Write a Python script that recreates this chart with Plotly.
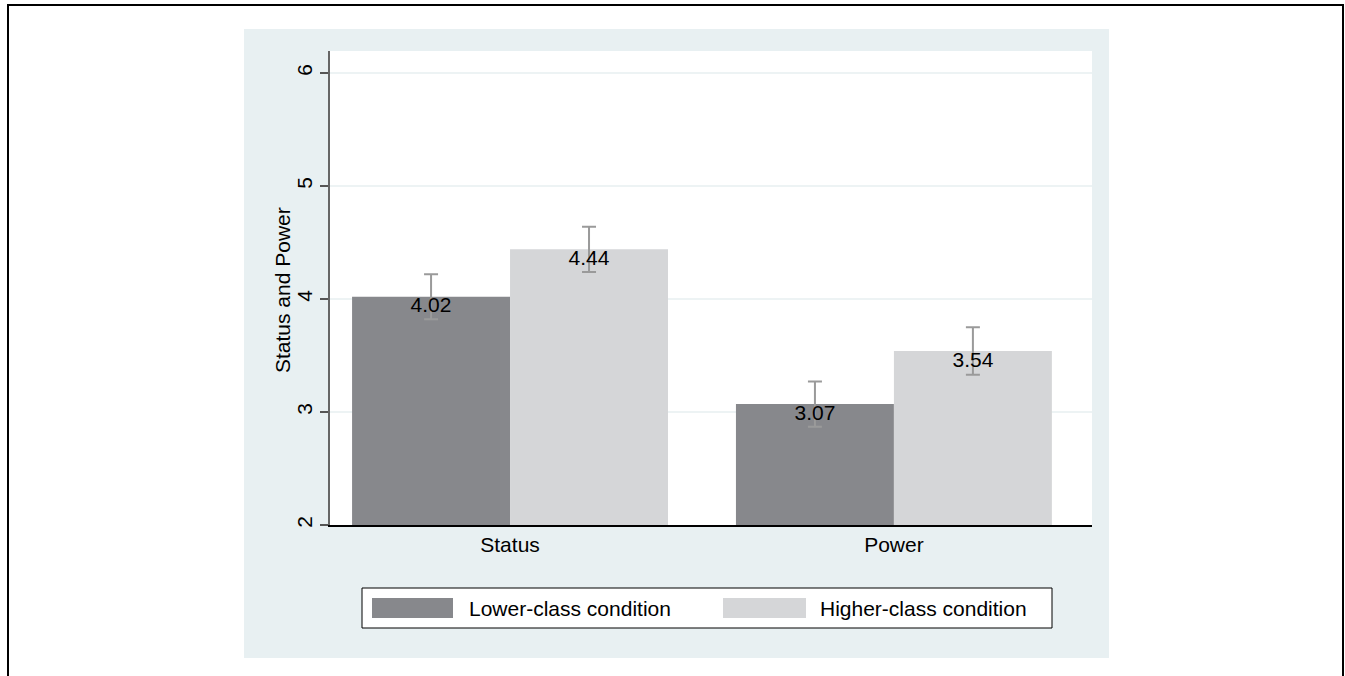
import plotly.graph_objects as go

categories = ["Status", "Power"]
series_names = ["Lower-class condition", "Higher-class condition"]
lower_vals = [4.02, 3.07]
higher_vals = [4.44, 3.54]
lower_err = [0.20, 0.20]
higher_err = [0.20, 0.21]
y_ticks = [2, 3, 4, 5, 6]
y_title = "Status and Power"

c_lower = "#87888c"
c_higher = "#d5d6d8"
bg_panel = "#e8f0f2"
FONT = "Liberation Sans, Arial, Helvetica, sans-serif"

fig = go.Figure()
groups = [(series_names[0], lower_vals, lower_err, c_lower, "g1"),
          (series_names[1], higher_vals, higher_err, c_higher, "g2")]
for name, vals, errs, col, og in groups:
    fig.add_trace(go.Bar(
        x=categories, y=vals, name=name, marker=dict(color=col, line=dict(width=0)),
        offsetgroup=og, alignmentgroup="a",
        error_y=dict(type="data", array=errs, color="#9a9a9a", thickness=2, width=7),
        showlegend=False, hoverinfo="skip",
    ))
for name, vals, errs, col, og in groups:
    fig.add_trace(go.Scatter(
        x=categories, y=vals, mode="text", offsetgroup=og, alignmentgroup="a",
        text=[f"{v:.2f}" for v in vals], textposition="bottom center",
        textfont=dict(size=21, color="black", family=FONT),
        showlegend=False, hoverinfo="skip",
    ))

W, H = 1345, 676
L, R, T, B = 330, 1092, 51, 525
pw, ph = R - L, B - T

def px(x):
    return (x - L) / pw

def py(y):
    return (B - y) / ph

shapes = [
    dict(type="rect", xref="paper", yref="paper", x0=px(244), x1=px(1109), y0=py(658), y1=py(29),
         line=dict(width=0), fillcolor=bg_panel, layer="below"),
    dict(type="rect", xref="paper", yref="paper", x0=0, x1=1, y0=0, y1=1,
         line=dict(width=0), fillcolor="white", layer="below"),
    dict(type="rect", xref="paper", yref="paper", x0=px(8), x1=px(1343), y0=py(720), y1=py(5),
         line=dict(color="black", width=2), fillcolor="rgba(0,0,0,0)", layer="above"),
    dict(type="rect", xref="paper", yref="paper", x0=px(362), x1=px(1052), y0=py(628), y1=py(588),
         line=dict(color="black", width=1), fillcolor="white", layer="above"),
    dict(type="rect", xref="paper", yref="paper", x0=px(372), x1=px(453), y0=py(618), y1=py(598),
         line=dict(width=0), fillcolor=c_lower, layer="above"),
    dict(type="rect", xref="paper", yref="paper", x0=px(723), x1=px(806), y0=py(618), y1=py(598),
         line=dict(width=0), fillcolor=c_higher, layer="above"),
]
annotations = [
    dict(xref="paper", yref="paper", x=px(467), y=py(608), text=series_names[0], showarrow=False,
         xanchor="left", yanchor="middle", font=dict(size=21, color="black", family=FONT)),
    dict(xref="paper", yref="paper", x=px(818), y=py(608), text=series_names[1], showarrow=False,
         xanchor="left", yanchor="middle", font=dict(size=21, color="black", family=FONT)),
    dict(xref="paper", yref="paper", x=px(282), y=py(290), text=y_title, showarrow=False,
         textangle=-90, xanchor="center", yanchor="middle",
         font=dict(size=21, color="black", family=FONT)),
]

fig.update_layout(
    width=W, height=H,
    margin=dict(l=L, r=W - R, t=T, b=H - B, pad=0),
    paper_bgcolor="white", plot_bgcolor="white",
    barmode="group", bargap=0.177, bargroupgap=0,
    scattermode="group", scattergap=0.177,
    font=dict(family=FONT, size=21, color="black"),
    shapes=shapes, annotations=annotations,
    xaxis=dict(type="category", range=[-0.469, 1.516], showline=True, linecolor="black",
               linewidth=2, ticks="", showgrid=False, tickfont=dict(size=21)),
    yaxis=dict(range=[2, 6 + 22 / 113], tickvals=y_ticks, ticks="outside", ticklen=8,
               tickcolor="#555555", tickwidth=1.5, showline=True, linecolor="#666666", linewidth=2,
               tickangle=-90, tickfont=dict(size=21), showgrid=True, gridcolor="#edf3f4",
               gridwidth=2, zeroline=False),
)

fig.write_html("out.html", config={"displayModeBar": False},
               post_script="document.body.style.margin='0';document.body.style.overflow='hidden';")
